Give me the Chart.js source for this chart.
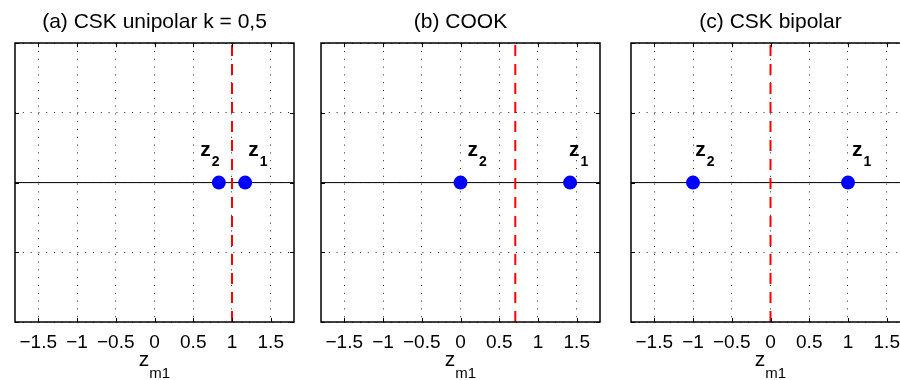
<!DOCTYPE html>
<html>
<head>
<meta charset="utf-8">
<script src="https://cdn.jsdelivr.net/npm/chart.js@4.4.0/dist/chart.umd.min.js"></script>
<style>
html, body { margin: 0; padding: 0; background: #fff; overflow: hidden; width: 900px; height: 380px; }
.panel { position: absolute; top: 0; }
</style>
</head>
<body>
<div class="panel" style="left:-10px"><canvas id="c0" width="330" height="380"></canvas></div>
<div class="panel" style="left:296px"><canvas id="c1" width="330" height="380"></canvas></div>
<div class="panel" style="left:606px"><canvas id="c2" width="330" height="380"></canvas></div>
<script>
// one entry per panel
const titles = ['(a) CSK unipolar k = 0,5', '(b) COOK', '(c) CSK bipolar'];
const z1 = [1.17, 1.414, 1];
const z2 = [0.83, 0, -1];
const thresholds = [1, 0.707, 0];
const labelX1 = [1.21, 1.40, 1.05];
const labelX2 = [0.59, 0.09, -0.97];
const labelY = 0.38;

const xTicks = [-1.5, -1, -0.5, 0, 0.5, 1, 1.5];
const yTicks = [-2, -1, 0, 1, 2];
const xRange = [-1.8, 1.8];
const yRange = [-2, 2];

const FONT = '"Liberation Sans", Arial, Helvetica, sans-serif';

// box, inward ticks, point labels and the axis title with subscripts
const decor = {
    id: 'decor',
    afterDraw(chart, args, opts) {
        const ctx = chart.ctx;
        const a = chart.chartArea;
        const xs = chart.scales.x, ys = chart.scales.y;
        ctx.save();
        ctx.strokeStyle = '#000';
        ctx.lineWidth = 1;
        ctx.beginPath();
        xs.ticks.forEach(t => {
            const px = Math.round(xs.getPixelForValue(t.value)) + 0.5;
            ctx.moveTo(px, a.top); ctx.lineTo(px, a.top + 4);
            ctx.moveTo(px, a.bottom); ctx.lineTo(px, a.bottom - 4);
        });
        ys.ticks.forEach(t => {
            const py = Math.round(ys.getPixelForValue(t.value)) + 0.5;
            ctx.moveTo(a.left, py); ctx.lineTo(a.left + 4, py);
            ctx.moveTo(a.right, py); ctx.lineTo(a.right - 4, py);
        });
        ctx.stroke();
        ctx.lineWidth = 1.5;
        ctx.strokeRect(Math.round(a.left), Math.round(a.top), Math.round(a.right - a.left), Math.round(a.bottom - a.top));

        ctx.fillStyle = '#000';
        ctx.textAlign = 'left';
        ctx.textBaseline = 'alphabetic';
        opts.labels.forEach(l => {
            const px = xs.getPixelForValue(l.x);
            const py = ys.getPixelForValue(l.y);
            ctx.font = 'bold 21px ' + FONT;
            ctx.fillText(l.main, px, py);
            const w = ctx.measureText(l.main).width;
            ctx.font = 'bold 14px ' + FONT;
            ctx.fillText(l.sub, px + w + 1, py + 10);
        });

        // x axis title z_m1
        ctx.font = '21px ' + FONT;
        const w1 = ctx.measureText('z').width;
        ctx.font = '15px ' + FONT;
        const w2 = ctx.measureText('m1').width;
        const cx = (a.left + a.right) / 2 - (w1 + w2) / 2;
        ctx.font = '21px ' + FONT;
        ctx.fillText('z', cx, 366);
        ctx.font = '15px ' + FONT;
        ctx.fillText('m1', cx + w1, 378);
        ctx.restore();
    }
};

function makePanel(i) {
    new Chart(document.getElementById('c' + i), {
        type: 'scatter',
        data: {
            datasets: [
                {
                    data: [{x: z1[i], y: 0}, {x: z2[i], y: 0}],
                    pointRadius: 7,
                    pointBackgroundColor: '#0000ff',
                    pointBorderWidth: 0,
                    order: 0
                },
                {
                    data: [{x: thresholds[i], y: yRange[0]}, {x: thresholds[i], y: yRange[1]}],
                    showLine: true,
                    borderColor: '#ff0000',
                    borderWidth: 2,
                    borderDash: [11, 8],
                    pointRadius: 0,
                    order: 1
                },
                {
                    data: [{x: xRange[0], y: 0}, {x: xRange[1], y: 0}],
                    showLine: true,
                    borderColor: '#000',
                    borderWidth: 1,
                    pointRadius: 0,
                    order: 2
                }
            ]
        },
        options: {
            responsive: false,
            animation: false,
            events: [],
            layout: { padding: { left: 25, right: 26, top: 0, bottom: 0 } },
            plugins: {
                legend: { display: false },
                tooltip: { enabled: false },
                title: {
                    display: true,
                    text: titles[i],
                    color: '#000',
                    font: { family: FONT, size: 21, weight: 'normal' },
                    padding: { top: 10, bottom: 8 }
                },
                decor: {
                    labels: [
                        {x: labelX2[i], y: labelY, main: 'z', sub: '2'},
                        {x: labelX1[i], y: labelY, main: 'z', sub: '1'}
                    ]
                }
            },
            scales: {
                x: {
                    type: 'linear',
                    min: xRange[0],
                    max: xRange[1],
                    afterBuildTicks: s => { s.ticks = xTicks.map(v => ({value: v})); },
                    afterFit: s => { s.height = 58; },
                    ticks: {
                        color: '#000',
                        padding: 9,
                        maxRotation: 0,
                        autoSkip: false,
                        font: { family: FONT, size: 19 },
                        callback: v => String(v).replace('-', '\u2212')
                    },
                    grid: { color: '#222', lineWidth: 1, drawTicks: false },
                    border: { display: false, dash: [1, 6.8] }
                },
                y: {
                    min: yRange[0],
                    max: yRange[1],
                    afterBuildTicks: s => { s.ticks = yTicks.map(v => ({value: v})); },
                    afterFit: s => { s.width = 0; },
                    ticks: { display: false },
                    grid: { color: '#222', lineWidth: 1, drawTicks: false },
                    border: { display: false, dash: [1, 6.8] }
                }
            }
        },
        plugins: [decor]
    });
}

[0, 1, 2].forEach(makePanel);
</script>
</body>
</html>
